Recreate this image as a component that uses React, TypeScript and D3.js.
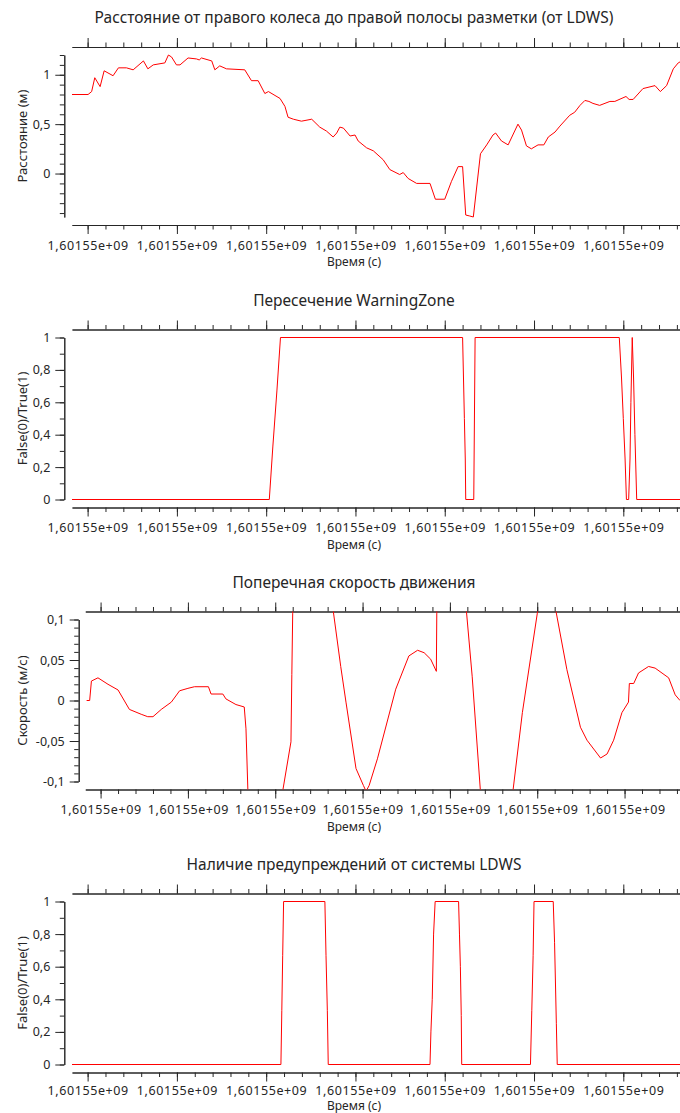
import * as d3 from "d3";
import { useRef, useEffect } from "react";

// базовое время (с), все подписи по оси X выглядят как 1,60155e+09
const BASE = 1601550040;
const T_MIN = -3.5;
const T_MAX = 132.7;
const X_MAJOR = [0, 20, 40, 60, 80, 100, 120];

// Расстояние от правого колеса до правой полосы разметки
const distT = [-3.5, 0.1, 0.9, 1.6, 2.8, 3.7, 5.7, 6.9, 8.7, 10.2, 12.5, 13.5, 14.7, 17.3, 18.1, 18.8, 19.9, 20.7, 22.5, 24.4, 25.0, 25.5, 27.8, 28.5, 29.6, 31.1, 35.2, 36.7, 38.2, 39.7, 40.5, 43.1, 44.2, 44.9, 46.1, 47.9, 50.2, 52.0, 53.5, 55.0, 55.8, 56.5, 57.3, 58.8, 59.9, 60.6, 62.5, 64.0, 66.2, 67.7, 69.9, 70.7, 71.8, 73.7, 76.7, 77.9, 80.0, 81.5, 83.0, 84.0, 84.7, 85.6, 86.4, 88.0, 89.4, 90.8, 91.4, 92.7, 94.2, 96.4, 97.2, 98.3, 99.4, 100.9, 102.2, 103.2, 104.7, 105.8, 108.0, 109.1, 110.3, 111.4, 112.3, 113.2, 114.7, 117.0, 118.1, 120.6, 121.3, 122.2, 124.4, 127.1, 128.3, 129.7, 131.2, 132.3, 132.7];
const distV = [0.80, 0.80, 0.83, 0.97, 0.88, 1.04, 0.99, 1.07, 1.07, 1.05, 1.14, 1.06, 1.10, 1.12, 1.20, 1.18, 1.10, 1.10, 1.17, 1.16, 1.15, 1.17, 1.14, 1.05, 1.09, 1.06, 1.05, 0.94, 0.94, 0.81, 0.83, 0.76, 0.68, 0.57, 0.55, 0.53, 0.55, 0.47, 0.43, 0.37, 0.41, 0.47, 0.46, 0.38, 0.39, 0.33, 0.26, 0.23, 0.14, 0.04, -0.01, 0.01, -0.05, -0.10, -0.10, -0.26, -0.26, -0.08, 0.07, 0.07, -0.42, -0.43, -0.44, 0.20, 0.29, 0.39, 0.41, 0.33, 0.29, 0.50, 0.44, 0.28, 0.25, 0.29, 0.29, 0.37, 0.42, 0.48, 0.59, 0.62, 0.69, 0.74, 0.73, 0.71, 0.69, 0.73, 0.73, 0.78, 0.75, 0.75, 0.86, 0.89, 0.83, 0.89, 1.06, 1.12, 1.13];

// Пересечение WarningZone
const zoneT = [-3.5, 40.7, 41.5, 42.4, 43.2, 84.0, 84.2, 84.4, 84.6, 84.7, 86.5, 86.8, 119.1, 119.6, 120.0, 120.4, 120.7, 121.2, 121.5, 121.7, 122.0, 122.3, 122.6, 123.0, 132.7];
const zoneV = [0, 0, 0.33, 0.67, 1, 1, 0.75, 0.5, 0.25, 0, 0, 1, 1, 0.75, 0.5, 0.25, 0, 0, 0.25, 0.6, 1, 0.75, 0.4, 0, 0];

// Поперечная скорость движения
const speedT = [-3.2, -2.5, -2.1, -0.6, 1.7, 4.0, 6.6, 9.3, 10.8, 12.0, 13.9, 16.2, 18.1, 20.0, 21.5, 24.7, 25.3, 28.0, 28.7, 31.0, 32.9, 33.3, 33.9, 41.3, 43.6, 43.8, 44.0, 44.2, 52.3, 55.0, 56.2, 58.5, 60.2, 60.8, 61.5, 63.4, 67.6, 70.6, 72.6, 74.1, 75.6, 76.9, 77.0, 77.1, 83.3, 85.1, 87.1, 94.3, 96.6, 100.0, 100.3, 103.4, 106.8, 109.9, 111.4, 114.5, 116.0, 117.5, 119.4, 120.9, 121.1, 122.1, 123.2, 125.5, 127.0, 130.1, 131.6, 132.7];
const speedV = [0, 0, 0.024, 0.028, 0.020, 0.013, -0.011, -0.017, -0.020, -0.020, -0.011, -0.002, 0.012, 0.015, 0.017, 0.017, 0.008, 0.008, 0.002, -0.005, -0.008, -0.035, -0.14, -0.125, -0.051, 0.032, 0.107, 0.15, 0.15, 0.042, -0.002, -0.084, -0.105, -0.112, -0.105, -0.072, 0.014, 0.055, 0.062, 0.059, 0.051, 0.036, 0.107, 0.2, 0.14, 0.030, -0.12, -0.118, -0.015, 0.107, 0.118, 0.136, 0.038, -0.033, -0.049, -0.071, -0.066, -0.049, -0.015, -0.002, 0.021, 0.021, 0.034, 0.042, 0.040, 0.028, 0.007, 0.0];

// Наличие предупреждений от системы LDWS
const warnT = [-3.5, 43.3, 43.5, 43.7, 43.9, 53.15, 53.4, 53.7, 53.9, 76.7, 76.9, 77.2, 77.5, 77.85, 83.1, 83.3, 83.5, 83.7, 83.8, 99.2, 99.5, 99.8, 100.0, 104.3, 104.6, 104.8, 105.0, 105.2, 132.7];
const warnV = [0, 0, 0.33, 0.67, 1, 1, 0.67, 0.33, 0, 0, 0.2, 0.4, 0.8, 1, 1, 0.8, 0.6, 0.3, 0, 0, 0.33, 0.67, 1, 1, 0.75, 0.5, 0.25, 0, 0];

const yTicksDist = [0, 0.5, 1];
const yTicksBool = [0, 0.2, 0.4, 0.6, 0.8, 1];
const yTicksSpeed = [-0.1, -0.05, 0, 0.05, 0.1];

const panels = [
  { title: "Расстояние от правого колеса до правой полосы разметки (от LDWS)", yLabel: "Расстояние (м)", t: distT, v: distV, yDomain: [-0.44, 1.2], ticks: yTicksDist, minor: d3.range(-4, 13).map(i => i / 10), top: 47, bottom: 225, left: 72, axisX: 64.3, pad: 7, xLabelY: 262 },
  { title: "Пересечение WarningZone", yLabel: "False(0)/True(1)", t: zoneT, v: zoneV, yDomain: [0, 1], ticks: yTicksBool, minor: d3.range(0, 11).map(i => i / 10), top: 329.5, bottom: 507.5, left: 72, axisX: 64.3, pad: 7, xLabelY: 544.5 },
  { title: "Поперечная скорость движения", yLabel: "Скорость (м/с)", t: speedT, v: speedV, yDomain: [-0.1, 0.1], ticks: yTicksSpeed, minor: d3.range(-10, 11).map(i => i / 100), top: 611.5, bottom: 789.5, left: 85.3, axisX: 78.7, pad: 7, xLabelY: 826.5 },
  { title: "Наличие предупреждений от системы LDWS", yLabel: "False(0)/True(1)", t: warnT, v: warnV, yDomain: [0, 1], ticks: yTicksBool, minor: d3.range(0, 11).map(i => i / 10), top: 893.5, bottom: 1072.5, left: 72, axisX: 64.3, pad: 4.5, xLabelY: 1105.5 },
];

const FONT = "'Noto Sans', sans-serif";
const INK = "#262626";
const W = 680;
const H = 1113;

const fmtX = (d) => d3.format(".5e")(d).replace(".", ",").replace(/e\+(\d)$/, "e+0$1");
const fmtY = (d) => String(+(+d).toFixed(3)).replace(".", ",");

const App = () => {
  const ref = useRef(null);

  useEffect(() => {
    document.body.style.margin = "0";
    const svg = d3.select(ref.current);
    svg.selectAll("*").remove();

    panels.forEach((p, i) => {
      const x = d3.scaleLinear().domain([BASE + T_MIN, BASE + T_MAX]).range([p.left, W]);
      const y = d3.scaleLinear().domain(p.yDomain).range([p.bottom - 8, p.top + 8]);
      const major = X_MAJOR.map(d => BASE + d);
      const minorX = d3.range(0, 133, 4).map(d => BASE + d);

      const g = svg.append("g");

      // заголовок
      g.append("text")
        .attr("x", 354).attr("y", p.top - 29)
        .attr("dy", "0.35em")
        .attr("text-anchor", "middle")
        .attr("font-family", FONT).attr("font-size", 15.5)
        .attr("fill", INK)
        .text(p.title);

      // верхняя ось
      g.append("g").attr("transform", `translate(0,${p.top})`)
        .call(d3.axisTop(x).tickValues(minorX).tickSize(4.5).tickSizeOuter(0).tickFormat(() => ""));
      g.append("g").attr("transform", `translate(0,${p.top})`)
        .call(d3.axisTop(x).tickValues(major).tickSize(9).tickSizeOuter(0).tickFormat(() => ""));

      // нижняя ось
      g.append("g").attr("transform", `translate(0,${p.bottom})`)
        .call(d3.axisBottom(x).tickValues(minorX).tickSize(4.5).tickSizeOuter(0).tickFormat(() => ""));
      const xAx = g.append("g").attr("transform", `translate(0,${p.bottom})`)
        .call(d3.axisBottom(x).tickValues(major).tickSize(9).tickPadding(p.pad).tickSizeOuter(0).tickFormat(fmtX));
      xAx.selectAll(".tick text").attr("letter-spacing", 0.6);

      // левая ось
      g.append("g").attr("transform", `translate(${p.axisX},0)`)
        .call(d3.axisLeft(y).tickValues(p.minor).tickSize(4.5).tickSizeOuter(0).tickFormat(() => ""));
      g.append("g").attr("transform", `translate(${p.axisX},0)`)
        .call(d3.axisLeft(y).tickValues(p.ticks).tickSize(9).tickPadding(5).tickSizeOuter(0).tickFormat(fmtY));

      g.selectAll(".domain, .tick line").attr("stroke", INK);
      g.selectAll(".tick text").attr("fill", INK).attr("font-family", FONT).attr("font-size", 12.5);

      // подписи осей
      g.append("text")
        .attr("x", 354).attr("y", p.xLabelY)
        .attr("dy", "0.35em")
        .attr("text-anchor", "middle")
        .attr("font-family", FONT).attr("font-size", 12)
        .attr("fill", INK)
        .text("Время (с)");

      const yc = (y.range()[0] + y.range()[1]) / 2;
      g.append("text")
        .attr("transform", `translate(22,${yc}) rotate(-90)`)
        .attr("dy", "0.35em")
        .attr("text-anchor", "middle")
        .attr("font-family", FONT).attr("font-size", 13)
        .attr("fill", INK)
        .text(p.yLabel);

      // линия
      svg.append("clipPath").attr("id", `clip${i}`)
        .append("rect")
        .attr("x", p.left).attr("y", p.top)
        .attr("width", W - p.left).attr("height", p.bottom - p.top);

      const line = d3.line()
        .x((d, j) => x(BASE + p.t[j]))
        .y(d => y(d));

      g.append("path")
        .datum(p.v)
        .attr("clip-path", `url(#clip${i})`)
        .attr("fill", "none")
        .attr("stroke", "#ff0000")
        .attr("stroke-width", 1)
        .attr("d", line);
    });
  }, []);

  return <svg ref={ref} width={W} height={H} style={{ display: "block", background: "#fff" }}></svg>;
};

export default App;
